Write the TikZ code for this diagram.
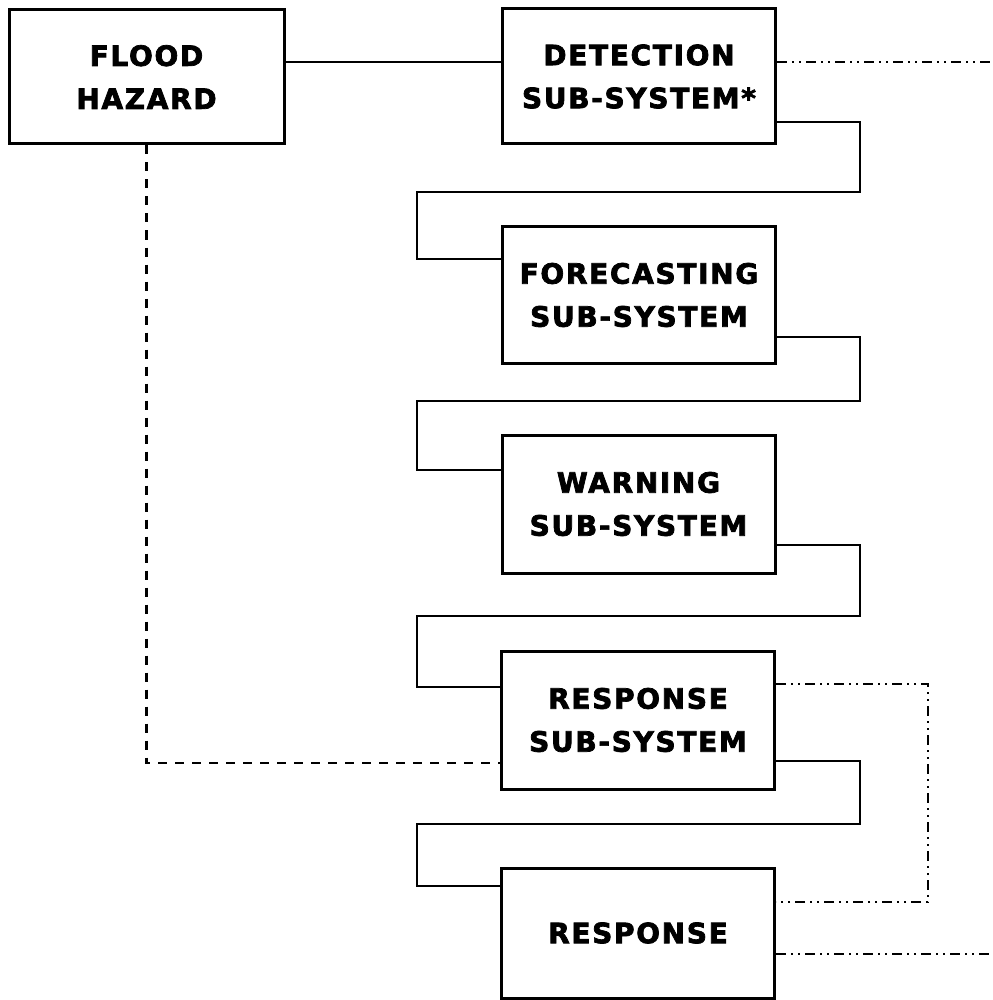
\documentclass[tikz,border=0pt]{standalone}
\usepackage{fontspec}
\newfontfamily\lblfont[LetterSpace=6, BoldFeatures={FakeBold=2.6}]{DejaVu Sans}
\begin{document}
\begin{tikzpicture}[x=1pt,y=-1pt,
  box/.style={draw=black, line width=3pt, fill=white, inner sep=0pt,
    align=center, minimum width=273pt, minimum height=136pt,
    font=\lblfont\bfseries\fontsize{28}{43}\selectfont},
  link/.style={line width=2.6pt},
  hazardlink/.style={line width=2.6pt, dash pattern=on 9pt off 8pt},
  feedback/.style={line width=2.4pt,
    dash pattern=on 10pt off 5pt on 2pt off 5pt on 2pt off 5pt}]
\useasboundingbox (0,0) rectangle (992,1000);

% boxes
\node[box, minimum width=275pt, minimum height=134pt] (fh) at (146.5,77) {FLOOD\\HAZARD};
\node[box, minimum height=135pt] (det)  at (639,76.5) {DETECTION\\SUB-SYSTEM*};
\node[box] (fore) at (639,295)  {FORECASTING\\SUB-SYSTEM};
\node[box, minimum height=138pt] (warn) at (638.5,504) {WARNING\\SUB-SYSTEM};
\node[box, minimum height=138pt] (rss)  at (638,720) {RESPONSE\\SUB-SYSTEM};
\node[box, minimum height=130pt] (resp) at (638,933) {RESPONSE};

% vertical runs of the zig-zag links and the feedback loop
\coordinate (rbus) at (860,0);
\coordinate (lbus) at (417,0);
\coordinate (fbus) at (928,0);
\coordinate (out1) at (992,62);
\coordinate (out2) at (992,954);

% hazard to detection
\draw[link] (fh.east |- 0,62) -- (det.west |- 0,62);

% chain of sub-systems
\draw[link] (det.east |- 0,122) -- (rbus |- 0,122) -- (rbus |- 0,192)
  -- (lbus |- 0,192) -- (lbus |- 0,259) -- (fore.west |- 0,259);
\draw[link] (fore.east |- 0,337) -- (rbus |- 0,337) -- (rbus |- 0,401)
  -- (lbus |- 0,401) -- (lbus |- 0,470) -- (warn.west |- 0,470);
\draw[link] (warn.east |- 0,545) -- (rbus |- 0,545) -- (rbus |- 0,616)
  -- (lbus |- 0,616) -- (lbus |- 0,687) -- (rss.west |- 0,687);
\draw[link] (rss.east |- 0,761) -- (rbus |- 0,761) -- (rbus |- 0,824)
  -- (lbus |- 0,824) -- (lbus |- 0,886) -- (resp.west |- 0,886);

% hazard to response sub-system
\draw[hazardlink] (fh.south) -- (fh.south |- 0,763) -- (rss.west |- 0,763);

% feedback lines
\draw[feedback] (det.east |- out1) -- (out1);
\draw[feedback] (rss.east |- 0,684) -- (fbus |- 0,684) -- (fbus |- 0,902)
  -- (resp.east |- 0,902);
\draw[feedback] (resp.east |- out2) -- (out2);
\end{tikzpicture}
\end{document}
